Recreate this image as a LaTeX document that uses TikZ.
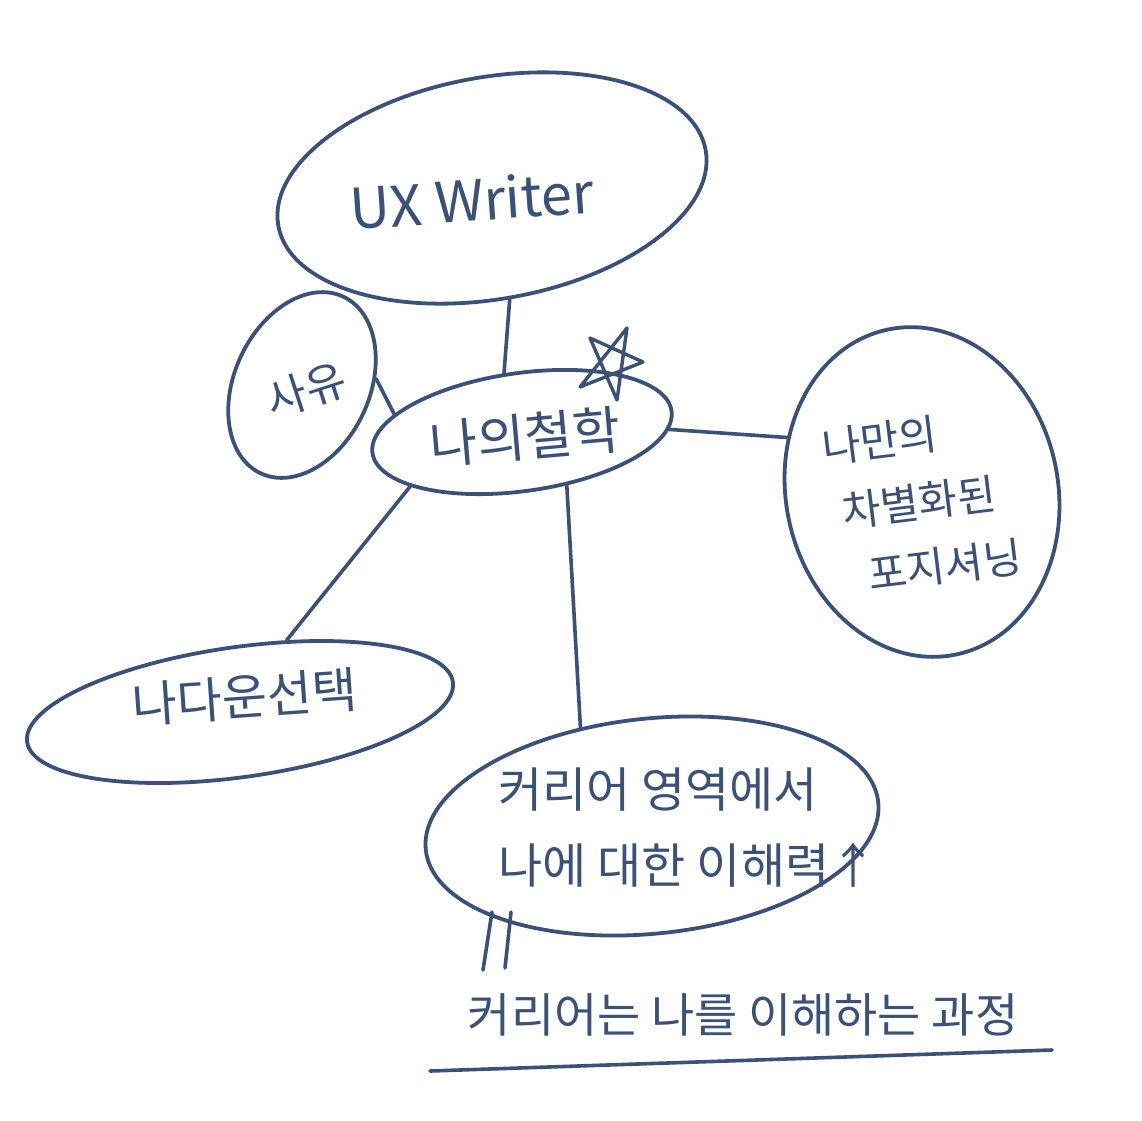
\documentclass[tikz,border=0pt]{standalone}
\usepackage{fontspec}
\setmainfont{Noto Sans CJK KR}
\usetikzlibrary{shapes.geometric}
\definecolor{ink}{HTML}{3B5178}
\newcommand{\fsz}[1]{\fontsize{#1}{#1}\selectfont}
\tikzset{
  bubble/.style={draw=ink, line width=3.8pt, ellipse, inner sep=0pt},
  link/.style={draw=ink, line width=3.6pt, line cap=round},
  lbl/.style={text=ink, inner sep=0pt, align=center},
}
\begin{document}
\begin{tikzpicture}[x=1pt,y=-1pt]
\useasboundingbox[fill=white] (0,0) rectangle (1142,1120);
% bubbles
\node[bubble, minimum width=434pt, minimum height=222pt, rotate=10] (ux) at (492,188) {};
\node[bubble, minimum width=135pt, minimum height=195pt, rotate=-25] (sayu) at (302,385) {};
\node[bubble, minimum width=302pt, minimum height=118pt, rotate=8] (phil) at (522,432) {};
\node[bubble, minimum width=272pt, minimum height=332pt, rotate=12] (pos) at (922,492) {};
\node[bubble, minimum width=430pt, minimum height=130pt, rotate=8] (choice) at (240,712) {};
\node[bubble, minimum width=455pt, minimum height=215pt, rotate=6] (career) at (652,826) {};
% labels
\node[lbl, rotate=4, font=\fsz{56}] (tux) at (472,200) {UX Writer};
\node[lbl, rotate=18, font=\fsz{44}] (tsayu) at (306,390) {사유};
\node[lbl, rotate=5, font=\fsz{52}] (tphil) at (525,437) {나의철학};
\node[lbl, rotate=7, align=left, font=\fsz{42}] (tpos) at (922,502)
  {나만의\\[24pt]\hspace*{12pt}차별화된\\[24pt]\hspace*{30pt}포지셔닝};
\node[lbl, rotate=4, font=\fsz{49}] (tchoice) at (245,697) {나다운선택};
\node[lbl, font=\fsz{48}] (tcar1) at (658,790) {커리어 영역에서};
\node[lbl, font=\fsz{48}] (tcar2) at (688,865) {나에 대한 이해력↑};
\node[lbl, font=\fsz{47}] (tbottom) at (743,1015) {커리어는 나를 이해하는 과정};
% star
\draw[ink, line width=3.4pt, line join=round, line cap=round]
  (627,328) -- (617,400) -- (590,338) -- (643,362) -- (580,387) -- cycle;
% connectors
\draw[link] (ux.269) -- (phil.99);
\draw[link] (sayu.30) -- (phil.164);
\draw[link] (phil.-7) -- (pos.146);
\draw[link] (phil.198) -- (choice.49);
\draw[link] (phil.-58) -- (career.120);
% equals marks and underline
\draw[link] (492,912) -- (483,970);
\draw[link] (511,912) -- (505,968);
\draw[link] (430,1071) -- (1052,1050);
\end{tikzpicture}
\end{document}
